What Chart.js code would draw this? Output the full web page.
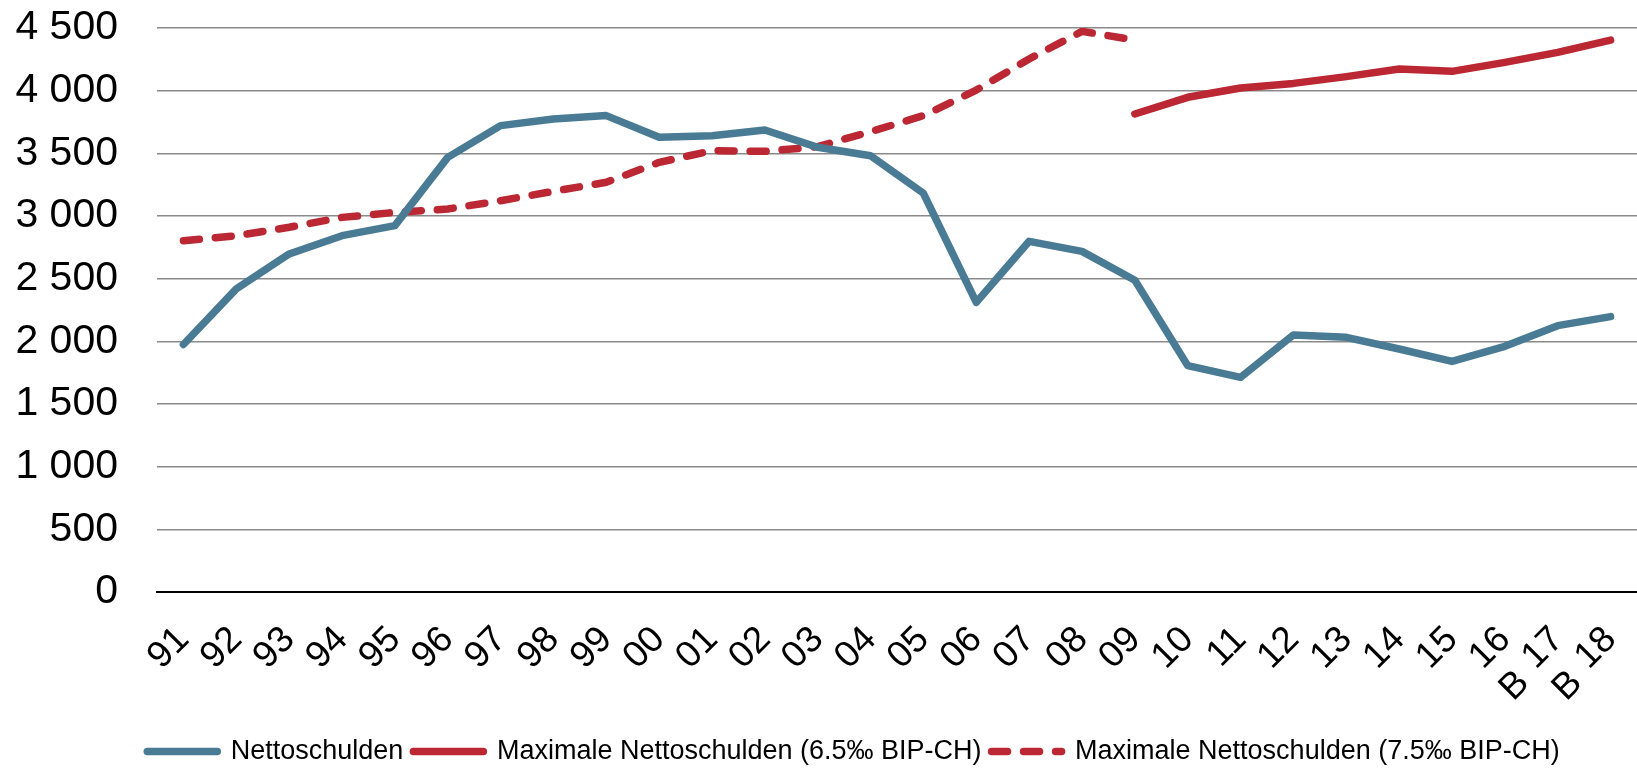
<!DOCTYPE html>
<html lang="de">
  <head>
    <meta charset="UTF-8" />
    <title>Nettoschulden</title>
    <script src="https://cdn.jsdelivr.net/npm/chart.js@4/dist/chart.umd.min.js"></script>
    <style>
      html, body { margin: 0; padding: 0; background: #fff; }
      #wrap { width: 1637px; height: 771px; }
    </style>
  </head>
  <body>
    <div id="wrap"><canvas id="chart" width="1637" height="771"></canvas></div>
    <script>
      const years = ["91", "92", "93", "94", "95", "96", "97", "98", "99", "00", "01", "02", "03", "04",
        "05", "06", "07", "08", "09", "10", "11", "12", "13", "14", "15", ["16", "B"], ["17", "B"], "18"];
      const nettoschulden = [1975, 2418, 2697, 2843, 2923, 3468, 3721, 3774, 3801, 3628, 3641, 3686, 3548, 3481,
        3181, 2311, 2798, 2718, 2487, 1806, 1713, 2051, 2032, 1939, 1840, 1960, 2125, 2197];
      const maxSchulden65 = [null, null, null, null, null, null, null, null, null, null, null, null, null, null,
        null, null, null, null, 3814, 3947, 4021, 4058, 4112, 4173, 4154, 4226, 4306, 4404];
      const maxSchulden75 = [2803, 2843, 2910, 2989, 3029, 3056, 3122, 3197, 3269, 3428, 3521, 3516, 3553, 3673,
        3801, 4005, 4253, 4473, 4404, null, null, null, null, null, null, null, null, null];

      const blue = "#497b95";
      const red = "#bb2732";
      const font = "'Liberation Sans', Arial, sans-serif";
      const fmt = (v) => String(v).replace(/\B(?=(\d{3})+(?!\d))/g, " ");

      // second line of the wrapped year labels ("B" = Budget), drawn under the rotated year
      const secondLinePlugin = {
        id: "secondLine",
        afterDraw(chart) {
          const x = chart.scales.x;
          const c = chart.ctx;
          c.save();
          c.font = "37px " + font;
          c.fillStyle = "#000";
          c.textAlign = "center";
          c.textBaseline = "middle";
          years.forEach((l, i) => {
            if (!Array.isArray(l)) return;
            c.save();
            c.translate(x.getPixelForTick(i) + 10, x.top + 94);
            c.rotate(-Math.PI / 4);
            c.fillText(l[1], 0, 0);
            c.restore();
          });
          c.restore();
        },
      };

      // the legend sits a bit right of the canvas centre in the original
      const legendShift = {
        id: "legendShift",
        afterLayout(chart) {
          chart.legend.left += 35;
          chart.legend.right += 35;
        },
      };

      const ctx = document.getElementById("chart").getContext("2d");
      const lineDefaults = { borderWidth: 7.5, pointRadius: 0, tension: 0, borderCapStyle: "round", borderJoinStyle: "round" };
      new Chart(ctx, {
        type: "line",
        data: {
          labels: years,
          datasets: [
            Object.assign({ label: "Nettoschulden", data: nettoschulden, borderColor: blue, backgroundColor: blue }, lineDefaults),
            Object.assign({ label: "Maximale Nettoschulden (6.5‰ BIP-CH)", data: maxSchulden65, borderColor: red, backgroundColor: red }, lineDefaults),
            Object.assign({ label: "Maximale Nettoschulden (7.5‰ BIP-CH)", data: maxSchulden75, borderColor: red, backgroundColor: red,
              borderDash: [16, 16] }, lineDefaults),
          ],
        },
        plugins: [secondLinePlugin, legendShift],
        options: {
          responsive: false,
          animation: false,
          spanGaps: false,
          layout: { padding: { top: 28, right: 0, bottom: -4, left: 0 } },
          plugins: {
            tooltip: { enabled: false },
            legend: {
              position: "bottom",
              labels: {
                usePointStyle: true,
                pointStyle: "line",
                pointStyleWidth: 70,
                padding: 10,
                color: "#000",
                font: { family: font, size: 27 },
                generateLabels(chart) {
                  const items = Chart.defaults.plugins.legend.labels.generateLabels(chart);
                  items.forEach((it) => {
                    const ds = chart.data.datasets[it.datasetIndex];
                    it.lineWidth = ds.borderWidth;
                    it.lineDash = ds.borderDash || [];
                    it.lineCap = "round";
                    it.strokeStyle = ds.borderColor;
                    it.fillStyle = ds.borderColor;
                    it.pointStyle = "line";
                  });
                  return items;
                },
              },
            },
          },
          scales: {
            x: {
              offset: true,
              grid: { display: false, drawTicks: false },
              border: { display: true, color: "#000", width: 2 },
              afterFit(scale) {
                scale.height = 136;
                scale.paddingLeft = 0;
                scale.paddingRight = 0;
              },
              ticks: {
                color: "#000",
                minRotation: 45,
                maxRotation: 45,
                autoSkip: false,
                padding: 26,
                font: { family: font, size: 37 },
                callback: (v, i) => (Array.isArray(years[i]) ? years[i][0] : years[i]),
              },
            },
            y: {
              min: 0,
              max: 4500,
              grid: { color: "#8a8a8a", lineWidth: 1.5, drawTicks: false },
              border: { display: false },
              afterFit(scale) {
                scale.width = 157;
                scale.paddingTop = 0;
                scale.paddingBottom = 0;
              },
              ticks: {
                stepSize: 500,
                color: "#000",
                padding: 39,
                font: { family: font, size: 41 },
                callback: (v) => fmt(v),
              },
            },
          },
        },
      });
    </script>
  </body>
</html>
